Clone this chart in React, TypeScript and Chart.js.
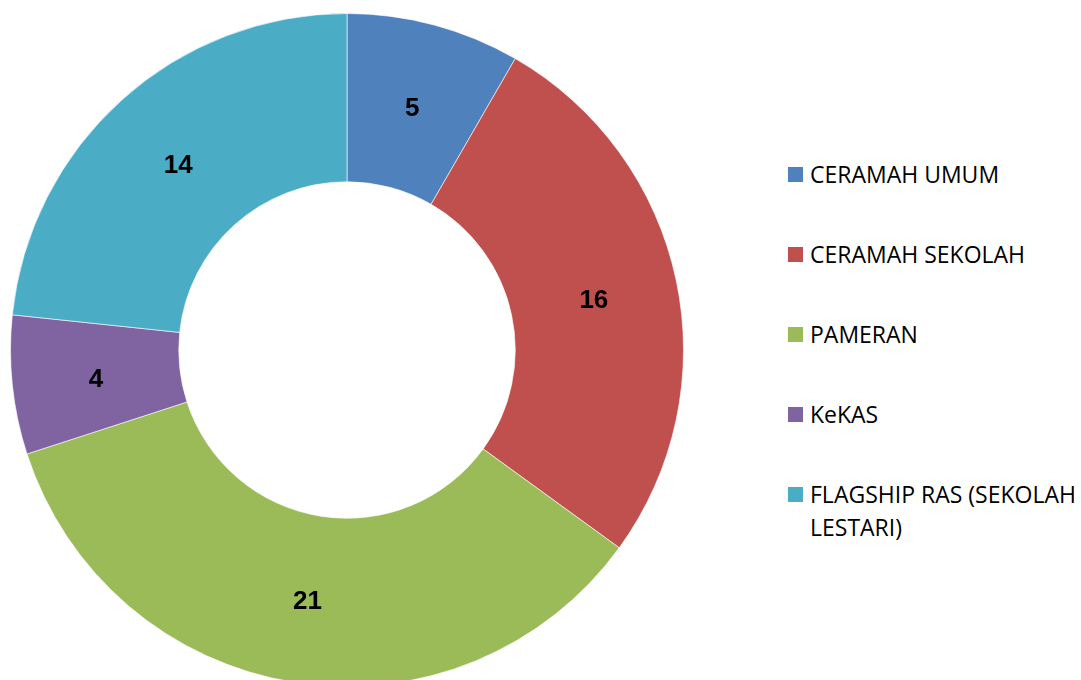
import React, { useEffect, useRef } from "react";
import { Chart, registerables } from "chart.js";

Chart.register(...registerables);

const categories = ["CERAMAH UMUM", "CERAMAH SEKOLAH", "PAMERAN", "KeKAS", "FLAGSHIP RAS (SEKOLAH LESTARI)"];
const values = [5, 16, 21, 4, 14];
const colors = ["#4F81BD", "#C0504D", "#9BBB59", "#8064A2", "#4BACC6"];

const valueLabels = {
  id: "valueLabels",
  afterDatasetsDraw(chart: any) {
    const ctx = chart.ctx;
    const meta = chart.getDatasetMeta(0);
    ctx.save();
    ctx.font = "bold 26px 'Liberation Sans', Arial, sans-serif";
    ctx.fillStyle = "#000";
    ctx.textAlign = "center";
    ctx.textBaseline = "middle";
    meta.data.forEach((arc: any, i: number) => {
      const p = arc.tooltipPosition();
      ctx.fillText(String(chart.data.datasets[0].data[i]), p.x, p.y + 3);
    });
    ctx.restore();
  },
};

export default function App() {
  const ref = useRef<HTMLCanvasElement>(null);
  useEffect(() => {
    const chart = new Chart(ref.current!, {
      type: "doughnut",
      data: {
        labels: categories,
        datasets: [
          {
            data: values,
            backgroundColor: colors,
            borderColor: "rgba(255,255,255,0.6)",
            borderWidth: 1,
          },
        ],
      },
      options: {
        responsive: false,
        animation: false,
        devicePixelRatio: 1,
        cutout: "50%",
        events: [],
        layout: { padding: { left: 10, right: 16, top: 13, bottom: 13 } },
        plugins: { legend: { display: false }, tooltip: { enabled: false } },
      },
      plugins: [valueLabels],
    });
    return () => chart.destroy();
  }, []);

  const font = "'Open Sans', sans-serif";
  return (
    <div style={{ position: "fixed", left: 0, top: 0, width: 1081, height: 680, overflow: "hidden", background: "#fff" }}>
      <canvas ref={ref} width={700} height={700} style={{ position: "absolute", left: 0, top: 0 }} />
      {categories.map((c, i) => (
        <div
          key={c}
          style={{
            position: "absolute",
            left: 788,
            top: 158 + i * 80,
            display: "flex",
            alignItems: "flex-start",
            fontFamily: font,
            fontSize: 23,
            lineHeight: "33px",
            color: "#000",
          }}
        >
          <span style={{ width: 15, height: 15, background: colors[i], marginTop: 9, marginRight: 7, flex: "none" }} />
          <span style={{ width: 272 }}>{c}</span>
        </div>
      ))}
    </div>
  );
}
